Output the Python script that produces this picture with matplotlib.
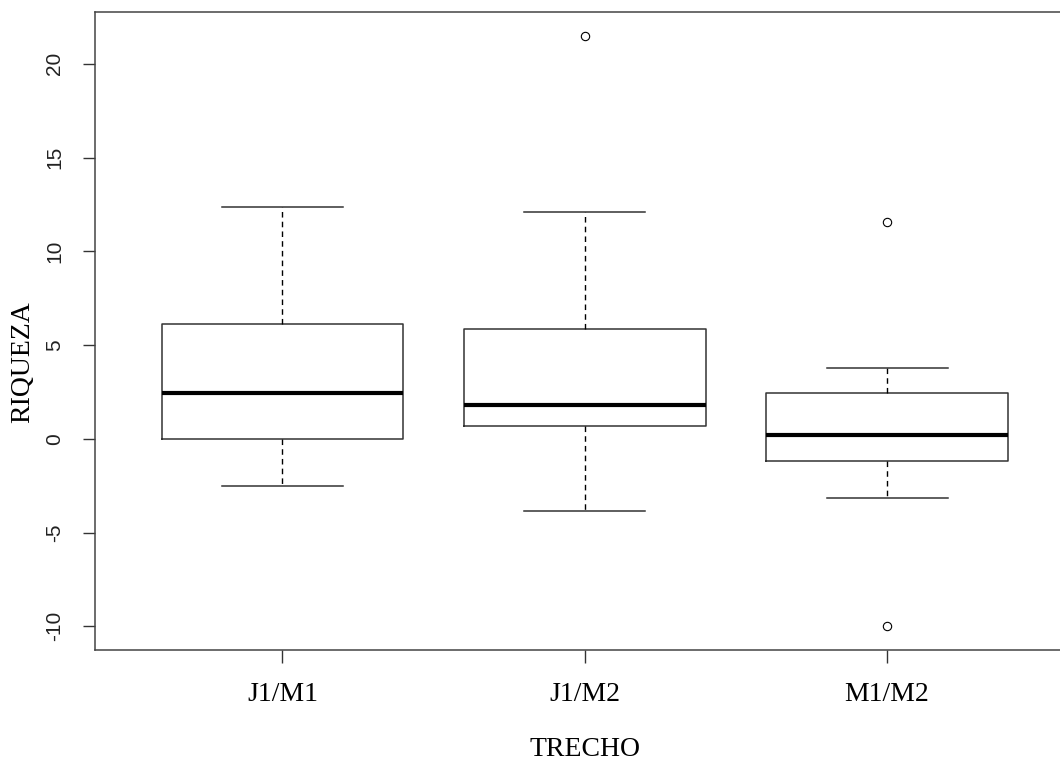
import matplotlib
matplotlib.use("Agg")
import matplotlib.pyplot as plt

# values
categories = ["J1/M1", "J1/M2", "M1/M2"]
whislo = [-2.5, -3.83, -3.14]
q1 = [0.0, 0.71, -1.19]
med = [2.47, 1.81, 0.21]
q3 = [6.14, 5.86, 2.47]
whishi = [12.37, 12.07, 3.76]
fliers = [[], [21.5], [11.57, -10.0]]
yticks = [-10, -5, 0, 5, 10, 15, 20]

stats = []
for i in range(len(categories)):
    stats.append(dict(label=categories[i], whislo=whislo[i], q1=q1[i], med=med[i],
                      q3=q3[i], whishi=whishi[i], fliers=fliers[i]))

fig = plt.figure(figsize=(10.6, 7.62), dpi=100)
W, H = 1060, 762
ax = fig.add_axes([95 / W, 1 - 650 / H, 979.5 / W, 638 / H])

edge = "#333333"
ax.bxp(stats, positions=[1, 2, 3], widths=0.8, capwidths=0.4,
       boxprops=dict(color=edge, linewidth=1.1),
       whiskerprops=dict(color="black", linewidth=1.0, linestyle=(0, (4, 3))),
       capprops=dict(color=edge, linewidth=1.1),
       medianprops=dict(color="black", linewidth=3.0, solid_capstyle="butt"),
       flierprops=dict(marker="o", markersize=6, markerfacecolor="none",
                       markeredgecolor="black", markeredgewidth=0.8))

ax.set_xlim(0.38, 3.62)
ax.set_ylim(-11.26, 22.76)

for s in ax.spines.values():
    s.set_color("#444444")
    s.set_linewidth(1.1)

ax.set_yticks(yticks)
ax.set_yticklabels([str(v) for v in yticks], rotation=90, va="center",
                   family="Liberation Sans", fontsize=15, color="#222222")
ax.set_xticks([1, 2, 3])
ax.set_xticklabels(categories, family="Liberation Serif", fontsize=20)
ax.tick_params(axis="y", length=9, width=1.0, color="#333333", pad=13)
ax.tick_params(axis="x", length=9, width=1.0, color="#333333", pad=14)

fig.text(585 / W, 1 - 749 / H, "TRECHO", ha="center", va="center",
         family="Liberation Serif", fontsize=20)
fig.text(23 / W, 1 - 362 / H, "RIQUEZA", ha="center", va="center", rotation=90,
         family="Liberation Serif", fontsize=20)

fig.savefig("out.png", dpi=100)
